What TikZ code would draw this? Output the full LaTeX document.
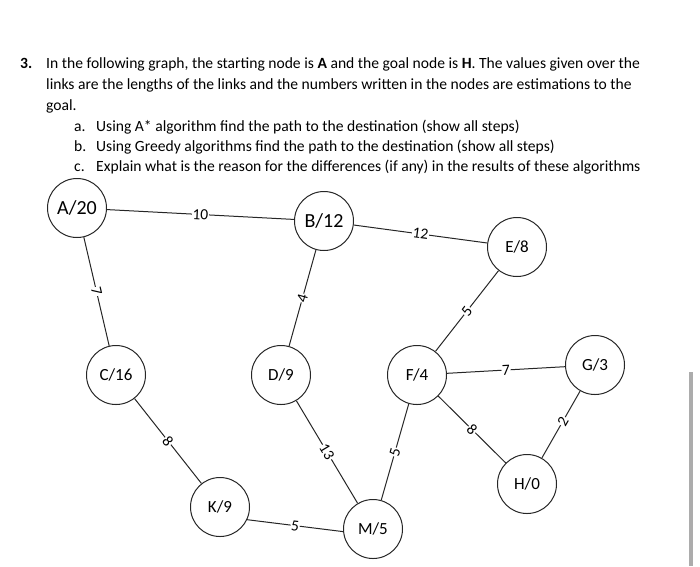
\documentclass[tikz,border=0pt]{standalone}
\usepackage{fontspec}
\setmainfont{Carlito}
\begin{document}
\begin{tikzpicture}[x=1pt,y=-1pt,
  gnode/.style={circle,draw=black!85,line width=1pt,minimum size=59pt,inner sep=0pt,font=\fontsize{17}{19}\selectfont},
  bignode/.style={gnode,font=\fontsize{20}{22}\selectfont},
  link/.style={draw=black!85,line width=1pt},
  wt/.style={fill=white,inner sep=0.6pt,sloped,font=\fontsize{15.5}{16}\selectfont},
  txt/.style={anchor=base west,inner sep=0pt,font=\fontsize{15.6}{18}\selectfont},
  bar/.style={line width=3.5pt,draw=gray!65}]
\useasboundingbox (0,0) rectangle (700,566);
% question text
\node[txt,font=\fontsize{15.6}{18}\selectfont\bfseries] (num) at (20,68) {3.};
\node[txt] (l1) at (46,68) {In the following graph, the starting node is \textbf{A} and the goal node is \textbf{H}. The values given over the};
\node[txt] (l2) at (46,89) {links are the lengths of the links and the numbers written in the nodes are estimations to the};
\node[txt] (l3) at (46,110) {goal.};
\node[txt] (ia) at (74,131) {a.};
\node[txt] (ta) at (96,131) {Using A* algorithm find the path to the destination (show all steps)};
\node[txt] (ib) at (74,151) {b.};
\node[txt] (tb) at (96,151) {Using Greedy algorithms find the path to the destination (show all steps)};
\node[txt] (ic) at (74,171) {c.};
\node[txt] (tc) at (96,171) {Explain what is the reason for the differences (if any) in the results of these algorithms};
% graph nodes
\node[bignode] (A) at (77,208) {A/20};
\node[bignode] (B) at (324,221) {B/12};
\node[gnode] (E) at (517,247) {E/8};
\node[gnode] (C) at (116,375) {C/16};
\node[gnode] (D) at (281,375) {D/9};
\node[gnode] (F) at (417,375) {F/4};
\node[gnode] (G) at (595,365) {G/3};
\node[gnode] (H) at (527,484) {H/0};
\node[gnode] (K) at (220,507) {K/9};
\node[gnode] (M) at (373,529) {M/5};
% links
\path[link] (A) -- node[wt] {10} (B);
\path[link] (A) -- node[wt] {7} (C);
\path[link] (B) -- node[wt] {4} (D);
\path[link] (B) -- node[wt] {12} (E);
\path[link] (E) -- node[wt] {5} (F);
\path[link] (F) -- node[wt] {7} (G);
\path[link] (F) -- node[wt] {8} (H);
\path[link] (G) -- node[wt,pos=0.45] {2} (H);
\path[link] (F) -- node[wt] {5} (M);
\path[link] (D) -- node[wt] {13} (M);
\path[link] (C) -- node[wt] {8} (K);
\path[link] (K.-25) -- node[wt] {5} (M.185);
% scrollbar remnant
\path[bar] (691,372) -- (691,566);
\end{tikzpicture}
\end{document}
